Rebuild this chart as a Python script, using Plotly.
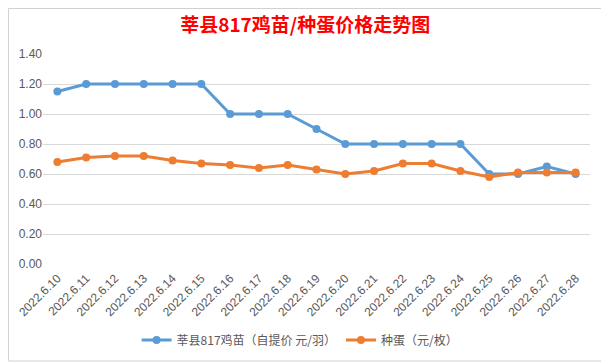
import plotly.graph_objects as go

dates = ["2022.6.10", "2022.6.11", "2022.6.12", "2022.6.13", "2022.6.14", "2022.6.15",
         "2022.6.16", "2022.6.17", "2022.6.18", "2022.6.19", "2022.6.20", "2022.6.21",
         "2022.6.22", "2022.6.23", "2022.6.24", "2022.6.25", "2022.6.26", "2022.6.27",
         "2022.6.28"]
chick = [1.15, 1.20, 1.20, 1.20, 1.20, 1.20, 1.00, 1.00, 1.00, 0.90, 0.80, 0.80,
         0.80, 0.80, 0.80, 0.60, 0.60, 0.65, 0.60]
egg = [0.68, 0.71, 0.72, 0.72, 0.69, 0.67, 0.66, 0.64, 0.66, 0.63, 0.60, 0.62,
       0.67, 0.67, 0.62, 0.58, 0.61, 0.61, 0.61]
yticks = [0.0, 0.2, 0.4, 0.6, 0.8, 1.0, 1.2, 1.4]

fig = go.Figure()
fig.add_trace(go.Scatter(x=dates, y=chick, mode="lines+markers",
                         name="莘县817鸡苗（自提价 元/羽）",
                         line=dict(color="#5B9BD5", width=3),
                         marker=dict(size=8, color="#5B9BD5")))
fig.add_trace(go.Scatter(x=dates, y=egg, mode="lines+markers",
                         name="种蛋（元/枚）",
                         line=dict(color="#ED7D31", width=3),
                         marker=dict(size=8, color="#ED7D31")))

fig.update_layout(
    width=609, height=364,
    margin=dict(l=35, r=27, t=46, b=108, autoexpand=False),
    paper_bgcolor="white", plot_bgcolor="white",
    font=dict(family="Noto Sans CJK SC, sans-serif", size=12, color="#595959"),
    title=dict(text="<b>莘县817鸡苗/种蛋价格走势图</b>", x=0.488, xanchor="center",
               y=0.953, yanchor="middle",
               font=dict(family="Noto Sans CJK SC", size=19, color="#FF0000")),
    xaxis=dict(type="category", range=[-0.5, len(dates) - 0.5], tickangle=-45,
               showgrid=False, showline=False, ticks="", automargin=False,
               ticklabelstandoff=4,
               tickfont=dict(family="Liberation Sans, Arial", size=12, color="#595959")),
    yaxis=dict(range=[0, 1.4], tickvals=yticks, tickformat=".2f",
               showgrid=True, gridcolor="#D9D9D9", gridwidth=1, zeroline=False,
               showline=False, ticks="", automargin=False,
               tickfont=dict(family="Liberation Sans, Arial", size=12, color="#595959")),
    legend=dict(orientation="h", x=0.47, xanchor="center", y=-0.362, yanchor="middle",
                font=dict(size=12, color="#595959"), itemwidth=30),
    showlegend=True,
    shapes=[dict(type="rect", xref="paper", yref="paper", x0=-0.0631, x1=1.0293,
                 y0=-0.4619, y1=1.2167, line=dict(color="#D0D0D8", width=1))],
)
fig.write_html("out.html")
